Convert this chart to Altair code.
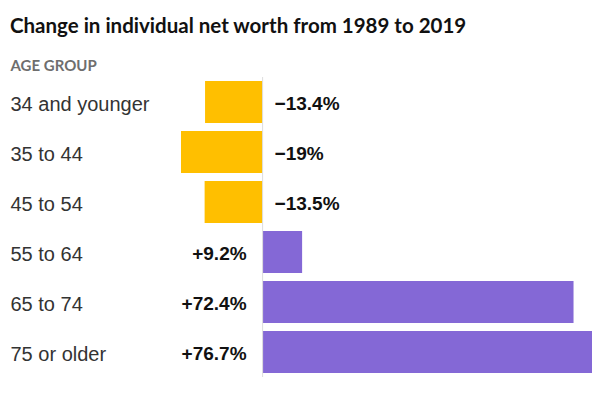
import altair as alt
import pandas as pd

ages = ["34 and younger", "35 to 44", "45 to 54", "55 to 64", "65 to 74", "75 or older"]
values = [-13.4, -19.0, -13.5, 9.2, 72.4, 76.7]
labels = ["\u221213.4%", "\u221219%", "\u221213.5%", "+9.2%", "+72.4%", "+76.7%"]

df = pd.DataFrame({"age": ages, "value": values, "label": labels})

GOLD = "#FFBF00"
PURPLE = "#8468D6"
TITLE_FONT = "Lato"

y_enc = alt.Y(
    "age:N",
    sort=ages,
    scale=alt.Scale(paddingInner=0.16, paddingOuter=0.08),
    axis=alt.Axis(
        title="AGE GROUP",
        titleAngle=0,
        titleX=-171,
        titleY=-7,
        titleAlign="left",
        titleBaseline="alphabetic",
        titleFont=TITLE_FONT,
        titleFontSize=15,
        titleFontWeight="bold",
        titleColor="#6e6e6e",
        labelAlign="left",
        labelPadding=171,
        labelFont="Liberation Sans",
        labelFontSize=20,
        labelColor="#333333",
        labelBaseline="middle",
        labelOffset=3,
        ticks=False,
        domain=False,
        grid=False,
    ),
)
x_enc = alt.X(
    "value:Q",
    scale=alt.Scale(domain=[-19, 76.7], nice=False, zero=True),
    axis=None,
)

base = alt.Chart(df)

bars = base.mark_bar().encode(
    y=y_enc,
    x=x_enc,
    x2=alt.datum(0),
    color=alt.condition("datum.value < 0", alt.value(GOLD), alt.value(PURPLE)),
)

zero = alt.Chart(pd.DataFrame({"z": [0]})).mark_rule(color="#dddddd", strokeWidth=1).encode(
    x=alt.X("z:Q", scale=alt.Scale(domain=[-19, 76.7], nice=False))
)

neg_text = base.transform_filter("datum.value < 0").mark_text(
    align="left", dx=12, dy=2, font="Liberation Sans", fontSize=19, fontWeight="bold", color="#111111"
).encode(y=alt.Y("age:N", sort=ages), x=alt.datum(0), text="label:N")

pos_text = base.transform_filter("datum.value >= 0").mark_text(
    align="right", dx=-16, dy=2, font="Liberation Sans", fontSize=19, fontWeight="bold", color="#111111"
).encode(y=alt.Y("age:N", sort=ages), x=alt.datum(0), text="label:N")

chart = (
    alt.layer(bars, zero, neg_text, pos_text)
    .properties(
        width=411,
        height=300,
        padding={"left": 2, "top": 8, "right": 0, "bottom": 0},
        title=alt.TitleParams(
            text="Change in individual net worth from 1989 to 2019",
            anchor="start",
            frame="bounds",
            font=TITLE_FONT,
            fontSize=20.5,
            fontWeight="bold",
            color="#111111",
            offset=21,
        ),
    )
    .configure_view(stroke=None)
)

chart.save("out.html", embed_options={"renderer": "svg", "actions": False})
